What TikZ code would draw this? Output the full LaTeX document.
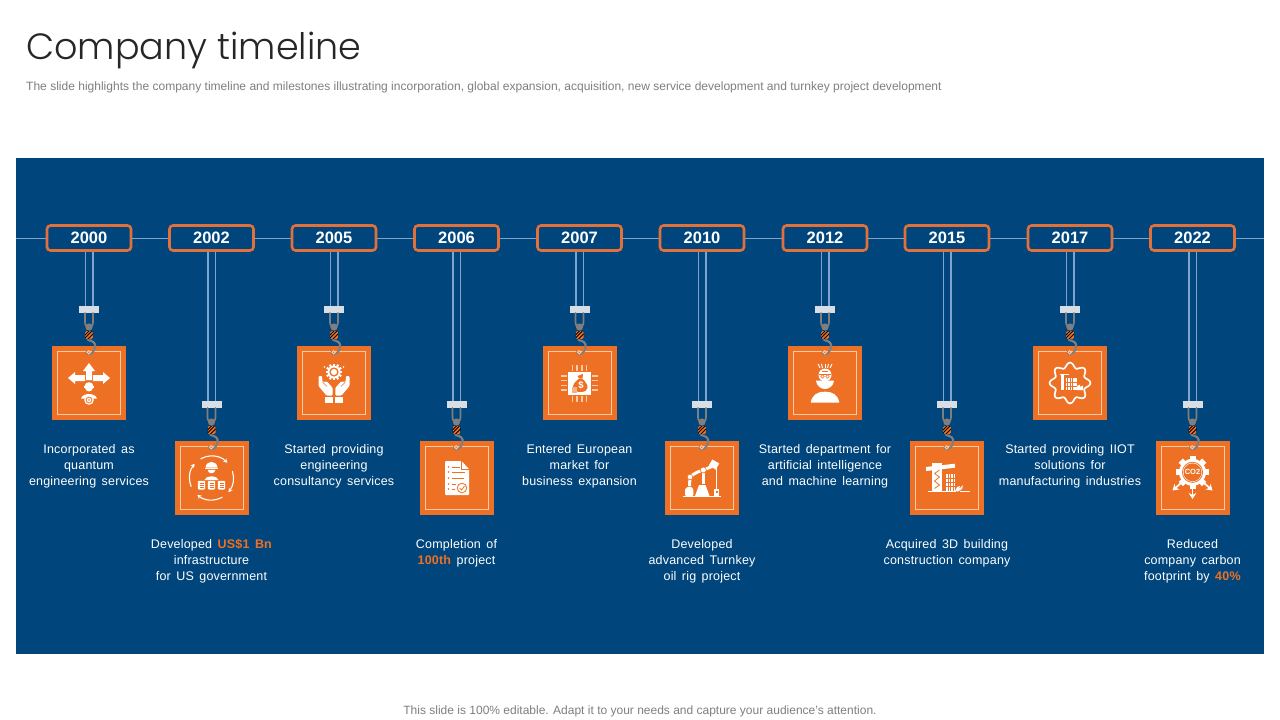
\documentclass[tikz,border=0pt]{standalone}
\usepackage{fontspec}
\usetikzlibrary{arrows.meta}
\setmainfont{Liberation Sans}
\newfontfamily\titlefont{Poppins}[UprightFont=* Light]
\newfontfamily\yearfont{Liberation Sans}[UprightFont=* Bold]
\newfontfamily\bodyfont{Liberation Sans}[LetterSpace=1.5,WordSpace=1.5]
\definecolor{navy}{HTML}{00457B}
\definecolor{accent}{HTML}{EE7024}
\definecolor{yearedge}{HTML}{E2703A}
\definecolor{rope}{HTML}{7EA6CC}
\definecolor{clampc}{HTML}{D9DEE4}
\definecolor{hookc}{HTML}{7F7F7F}
\definecolor{framec}{HTML}{F9CBA9}
\definecolor{titlec}{HTML}{262626}
\definecolor{subc}{HTML}{7F7F7F}
\tikzset{
 yearbox/.style={draw=yearedge,line width=2.6pt,rounded corners=3.5pt,fill=navy,minimum width=84pt,minimum height=25pt,inner sep=0pt,text=white,font=\yearfont\fontsize{16.5}{18}\selectfont},
 clampbar/.style={fill=clampc,minimum width=20pt,minimum height=7pt,inner sep=0pt},
 cardbox/.style={fill=accent,minimum width=74pt,minimum height=74pt,inner sep=0pt},
 framebox/.style={draw=framec,line width=0.7pt,minimum width=63pt,minimum height=63pt,inner sep=0pt},
 ropeline/.style={draw=rope,line width=1.5pt},
 axisline/.style={draw=rope,line width=1pt},
 hookline/.style={draw=hookc,line width=1.7pt,line cap=round},
 txtlabel/.style={anchor=north,inner sep=0pt,align=center,text=white,font=\bodyfont\fontsize{12.5}{16}\selectfont},
 ic/.style={fill=white,draw=none},
 iw/.style={draw=white,line width=1.1pt},
 io/.style={draw=accent,line width=0.8pt},
 pin/.style={draw=framec,line width=1.2pt},
 tipa/.style={-{Stealth[length=4pt,width=4.5pt]}},
 tipb/.style={-{Stealth[length=6pt,width=7.5pt]}},
}
\newcommand{\hl}[1]{\textcolor{accent}{\textbf{#1}}}
% ---- icons, local origin at the card centre, y downwards
\newcommand{\iconA}{
 \fill[ic] (0,-20)--(6,-12)--(3,-12)--(3,-3)--(-3,-3)--(-3,-12)--(-6,-12)--cycle;
 \fill[ic] (-21,-5)--(-14,-11)--(-14,-8)--(-4,-8)--(-4,-2)--(-14,-2)--(-14,1)--cycle;
 \fill[ic] (21,-5)--(14,-11)--(14,-8)--(4,-8)--(4,-2)--(14,-2)--(14,1)--cycle;
 \fill[ic] (-4.5,3) .. controls (-4,-2) and (4,-2) .. (4.5,3)--cycle;
 \fill[ic] (-5,3.4) rectangle (5,4.6);
 \fill[ic] (-4,5) .. controls (-3,9.5) and (3,9.5) .. (4,5)--cycle;
 \fill[ic] (-8,15.5) .. controls (-6,9.5) and (6,9.5) .. (8,15.5)--cycle;
 \fill[ic] (0,17) circle (4.8pt);
 \draw[io] (0,17) circle (2.9pt);
 \fill[accent] (0,17) circle (0.9pt);
}
\newcommand{\iconB}{
 \draw[iw,tipa] (240:22) arc (240:316:22);
 \draw[iw,tipa] (-18:22) arc (-18:40:22);
 \draw[iw,tipa] (60:22) arc (60:130:22);
 \draw[iw,tipa] (157:22) arc (157:220:22);
 \fill[ic] (-6,-10.5) .. controls (-5,-18) and (5,-18) .. (6,-10.5)--cycle;
 \fill[ic] (-6.5,-10) rectangle (6.5,-8.8);
 \fill[ic] (-4,-8.2) .. controls (-3,-3.5) and (3,-3.5) .. (4,-8.2)--cycle;
 \fill[ic] (-7,2) .. controls (-6,-3) and (6,-3) .. (7,2)--cycle;
 \foreach \dx in {-10,0,10}{
  \fill[ic,rounded corners=1pt] (\dx-3.7,2.8) rectangle (\dx+3.7,11.5);
  \draw[io,line width=0.5pt] (\dx-2,5.2)--(\dx+2,5.2) (\dx-2,7.2)--(\dx+2,7.2) (\dx-2,9.2)--(\dx+2,9.2);
 }
}
\newcommand{\iconC}{
 \begin{scope}[shift={(0,-11)}]
 \foreach \a in {0,30,...,330}{\fill[ic,rotate=\a] (-1,-8.4) rectangle (1,-5.5);}
 \fill[ic] (0,0) circle (6.5pt);
 \fill[accent] (0,0) circle (4.6pt);
 \fill[ic] (0,0) circle (3.1pt);
 \end{scope}
 \fill[ic] (-9.5,-16) circle (0.9pt) (9.5,-16) circle (0.9pt);
 \foreach \s in {1,-1}{
  \begin{scope}[xscale=\s]
  \fill[ic,rounded corners=1pt] (-15.5,-7)--(-12,-7)--(-11.5,-1)--(-7,-1.5)--(-1.3,5)--(-1.3,12.5)--(-7.5,12.5)--(-15.5,3)--cycle;
  \draw[io,line width=0.6pt] (-11.5,-1)--(-7,3.5);
  \fill[ic] (-9,14.3) rectangle (-1.3,19.7);
  \end{scope}
 }
}
\newcommand{\iconD}{
 \fill[ic,rounded corners=1pt] (-11.5,-17)--(5,-17)--(12.5,-9)--(12.5,17)--(-11.5,17)--cycle;
 \draw[io,line width=0.5pt] (5,-17)--(5,-9)--(12.5,-9);
 \foreach \yy/\xe in {-11/3,-6/8,0/7,6/-1,11/-2}{
  \fill[accent] (-8,\yy) circle (0.9pt);
  \draw[io,line width=0.9pt] (-5,\yy)--(\xe,\yy);
 }
 \fill[ic] (5.5,10) circle (6.2pt);
 \draw[io] (5.5,10) circle (4.8pt);
 \draw[io] (3.2,10)--(5,12)--(8,8);
}
\newcommand{\iconE}{
 \foreach \p in {-7,-2.5,2.5,7}{
  \draw[pin] (\p,-18.5)--(\p,-12.5) (\p,12.5)--(\p,18.5) (-18.5,\p)--(-12.5,\p) (12.5,\p)--(18.5,\p);
 }
 \fill[ic] (-11.5,-11.5) rectangle (11.5,11.5);
 \fill[accent] (-2,-7)--(3.5,-9)--(3,-4.5)--(-0.5,-4.5)--cycle;
 \fill[accent] (-1,-4) .. controls (-9,2) and (-8,9) .. (1,9) .. controls (10,9) and (10,2) .. (3,-4)--cycle;
 \fill[accent!55!white] (-7.5,3.5) rectangle (-3,9.5);
 \node[text=white,inner sep=0pt,font=\bfseries\fontsize{9.5}{10}\selectfont] (bagsign) at (1.4,2.8) {\$};
}
\newcommand{\iconF}{
 \fill[ic] (-18.7,18) rectangle (18.7,19.3);
 \fill[ic,rounded corners=1pt] (-17,18)--(-17,11)--(-14,8.7)--(-11,8.7)--(-8.7,11)--(-8.7,18)--cycle;
 \fill[ic] (-7,18)--(-3,7)--(3.5,7)--(7.5,18)--cycle;
 \fill[ic] (12,18)--(12,10.5)--(17,10.5)--(17,18)--cycle;
 \fill[accent] (13.5,13) rectangle (15.5,15);
 \draw[iw] (14.3,-13)--(14.3,11);
 \draw[iw,line width=3pt] (-12,-1) .. controls (-8,-5) and (-2,-7) .. (1.3,-8)--(10,-11.5);
 \draw[iw,line width=3pt] (-12,-1)--(-12.5,8);
 \draw[iw,line width=3pt] (1.3,-8)--(1.3,6);
 \draw[io,line width=0.6pt,fill=white] (-12,-1) circle (2.8pt);
 \draw[io,line width=0.6pt,fill=white] (1.3,-8) circle (3pt);
 \fill[ic,rotate around={-30:(12,-13.5)}] (8,-17) rectangle (16,-10);
}
\newcommand{\iconG}{
 \fill[ic] (-14.3,19.7) .. controls (-13,12) and (-8,8.7) .. (0,8.7) .. controls (8,8.7) and (13,12) .. (14.3,19.7)--cycle;
 \fill[ic] (-9,-2.3) -- (9,-2.3) .. controls (8.5,3) and (4,6) .. (0,6) .. controls (-4,6) and (-8.5,3) .. (-9,-2.3)--cycle;
 \fill[ic] (0,-8) circle (6.5pt);
 \draw[io] (-6,-8.5)--(6,-8.5);
 \draw[io,line width=0.6pt] (-2.5,-6.5) circle (1.8pt) (2.5,-6.5) circle (1.8pt) (-3,-11.5)--(3,-11.5);
 \foreach \p/\q in {-7/-5,-3.5/-2.5,0/0,3.5/2.5,7/5}{\draw[iw,line width=0.9pt] (\p,-19)--(\q,-15);}
}
\newcommand{\iconH}{
 \fill[ic] (-15,-15) rectangle (-5,13);
 \draw[io,line width=0.8pt] (-12.5,-4.5)--(-7.5,-1)--(-12.5,3)--(-7.5,7)--(-12.5,10.5) (-12.5,-4.5)--(-7.5,-8);
 \draw[iw,line width=4pt] (-21,-9)--(8,-12.3);
 \fill[ic] (-1,-3.7) rectangle (8,13);
 \draw[io,line width=0.6pt] (1.2,-3.7)--(1.2,13) (3.5,-3.7)--(3.5,13) (5.8,-3.7)--(5.8,13) (-1,0)--(8,0) (-1,4)--(8,4) (-1,8)--(8,8);
 \draw[iw,line width=0.7pt] (-19,13.4)--(9,13.4);
 \fill[ic] (8,13)--(10,9)--(13,8)--(12,11)--(14,9)--(16,7)--(15,11)--(11,13.5)--cycle;
 \fill[ic] (13,12.6) rectangle (23,14.4);
}
\newcommand{\iconI}{
 \draw[iw,line width=1.7pt] plot[samples=121,domain=0:360,smooth] (\x:{18+2.4*sin(8*\x+90)});
 \fill[ic] (-9,-8) rectangle (-6,7);
 \fill[ic] (-10.5,-9.5) rectangle (-1,-8);
 \fill[ic] (-4.5,-5) rectangle (7,7);
 \draw[io,line width=0.6pt] (-2.5,-5)--(-2.5,7) (0,-5)--(0,7) (2.5,-5)--(2.5,7) (-4.5,-1)--(7,-1) (-4.5,3)--(7,3);
 \fill[ic] (7,3)--(10,1.5)--(10,4)--(13,2.5)--(13,7)--(7,7)--cycle;
}
\newcommand{\iconJ}{
 \begin{scope}[shift={(0,-5.7)}]
 \foreach \a in {0,45,...,315}{\fill[ic,rotate=\a] (-3,-16.5) rectangle (3,-11);}
 \fill[ic] (0,0) circle (13.5pt);
 \fill[accent] (0,0) circle (10.5pt);
 \fill[ic] (0,0) circle (9.6pt);
 \fill[accent] (0,0) circle (9pt);
 \node[text=white,inner sep=0pt,font=\bfseries\fontsize{7.5}{8}\selectfont] (cotwo) at (0,0) {CO2};
 \end{scope}
 \draw[iw,line width=1.7pt,tipb] (0,7)--(0,21);
 \draw[iw,line width=1.7pt,tipb] (-10,3.7)--(-20,12.5);
 \draw[iw,line width=1.7pt,tipb] (10,3.7)--(20,12.5);
}
% ---- one milestone: year, centre x, card top, icon, label top, label
\newcommand{\milestone}[6]{
 \node[yearbox] (y#1) at (#2,238) {#1};
 \node[clampbar] (cl#1) at (#2,{#3-36.5}) {};
 \draw[ropeline] ([xshift=-3.4pt]y#1.south)--([xshift=-3.4pt]cl#1.north);
 \draw[ropeline] ([xshift=4.2pt]y#1.south)--([xshift=4.2pt]cl#1.north);
 \node[cardbox] (c#1) at (#2,{#3+37}) {};
 \node[framebox] (f#1) at (c#1) {};
 \begin{scope}[shift={(#2,#3)}]
  \draw[hookline] (-4,-33)--(-4,-24) .. controls (-4,-20) and (-2,-19) .. (0,-19) .. controls (2,-19) and (4,-20) .. (4,-24)--(4,-33);
  \fill[hookc] (0,-19) circle (3.6pt);
  \begin{scope}
   \clip[rounded corners=1.5pt] (-4,-15) rectangle (4,-7);
   \fill[accent] (-4,-15) rectangle (4,-7);
   \draw[black,line width=1pt] (-6,-9)--(2,-17) (-6,-6)--(5,-17) (-3,-5)--(7,-15);
  \end{scope}
  \draw[hookline,line width=2.1pt] (-1,-6) .. controls (4,-5) and (7,-3) .. (6,1) .. controls (5.5,5) and (3,8) .. (0,8) .. controls (-1.5,8) and (-2.5,7) .. (-2.5,6);
  \draw[framec,line width=0.9pt,fill=accent] (-0.3,6.3) circle (1.7pt);
 \end{scope}
 \begin{scope}[shift={(c#1.center)}]
  #4
 \end{scope}
 \node[txtlabel] (t#1) at (#2,#5) {\strut #6};
}
\begin{document}
\begin{tikzpicture}[x=1pt,y=-1pt]
\useasboundingbox (0,0) rectangle (1280,720);
\fill[white] (0,0) rectangle (1280,720);
\node[anchor=base west,inner sep=0pt,text=titlec,font=\titlefont\fontsize{36.5}{44}\selectfont] (title) at (26,59) {Company timeline};
\node[anchor=base west,inner sep=0pt,text=subc,font=\fontsize{12.03}{14}\selectfont] (subtitle) at (26,90) {The slide highlights the company timeline and milestones illustrating incorporation, global expansion, acquisition, new service development and turnkey project development};
\node[anchor=base,inner sep=0pt,text=subc,font=\fontsize{12}{14}\selectfont] (footer) at (640,714) {This slide is 100\% editable. Adapt it to your needs and capture your audience's attention.};
\fill[navy] (16,158) rectangle (1264,654);
\coordinate (axisL) at (16,238);
\coordinate (axisR) at (1264,238);
\milestone{2000}{89}{346}{\iconA}{442}{Incorporated as\\quantum\\engineering services}
\milestone{2002}{211.5}{441}{\iconB}{537}{Developed \hl{US\$1 Bn}\\infrastructure\\for US government}
\milestone{2005}{334}{346}{\iconC}{442}{Started providing\\engineering\\consultancy services}
\milestone{2006}{456.5}{441}{\iconD}{537}{Completion of\\\hl{100th} project}
\milestone{2007}{579.5}{346}{\iconE}{442}{Entered European\\market for\\business expansion}
\milestone{2010}{702}{441}{\iconF}{537}{Developed\\advanced Turnkey\\oil rig project}
\milestone{2012}{825}{346}{\iconG}{442}{Started department for\\artificial intelligence\\and machine learning}
\milestone{2015}{947}{441}{\iconH}{537}{Acquired 3D building\\construction company}
\milestone{2017}{1070}{346}{\iconI}{442}{Started providing IIOT\\solutions for\\manufacturing industries}
\milestone{2022}{1192.5}{441}{\iconJ}{537}{Reduced\\company carbon\\footprint by \hl{40\%}}
\draw[axisline] (axisL)--(y2000) (y2000)--(y2002) (y2002)--(y2005) (y2005)--(y2006) (y2006)--(y2007) (y2007)--(y2010) (y2010)--(y2012) (y2012)--(y2015) (y2015)--(y2017) (y2017)--(y2022) (y2022)--(axisR);
\end{tikzpicture}
\end{document}
